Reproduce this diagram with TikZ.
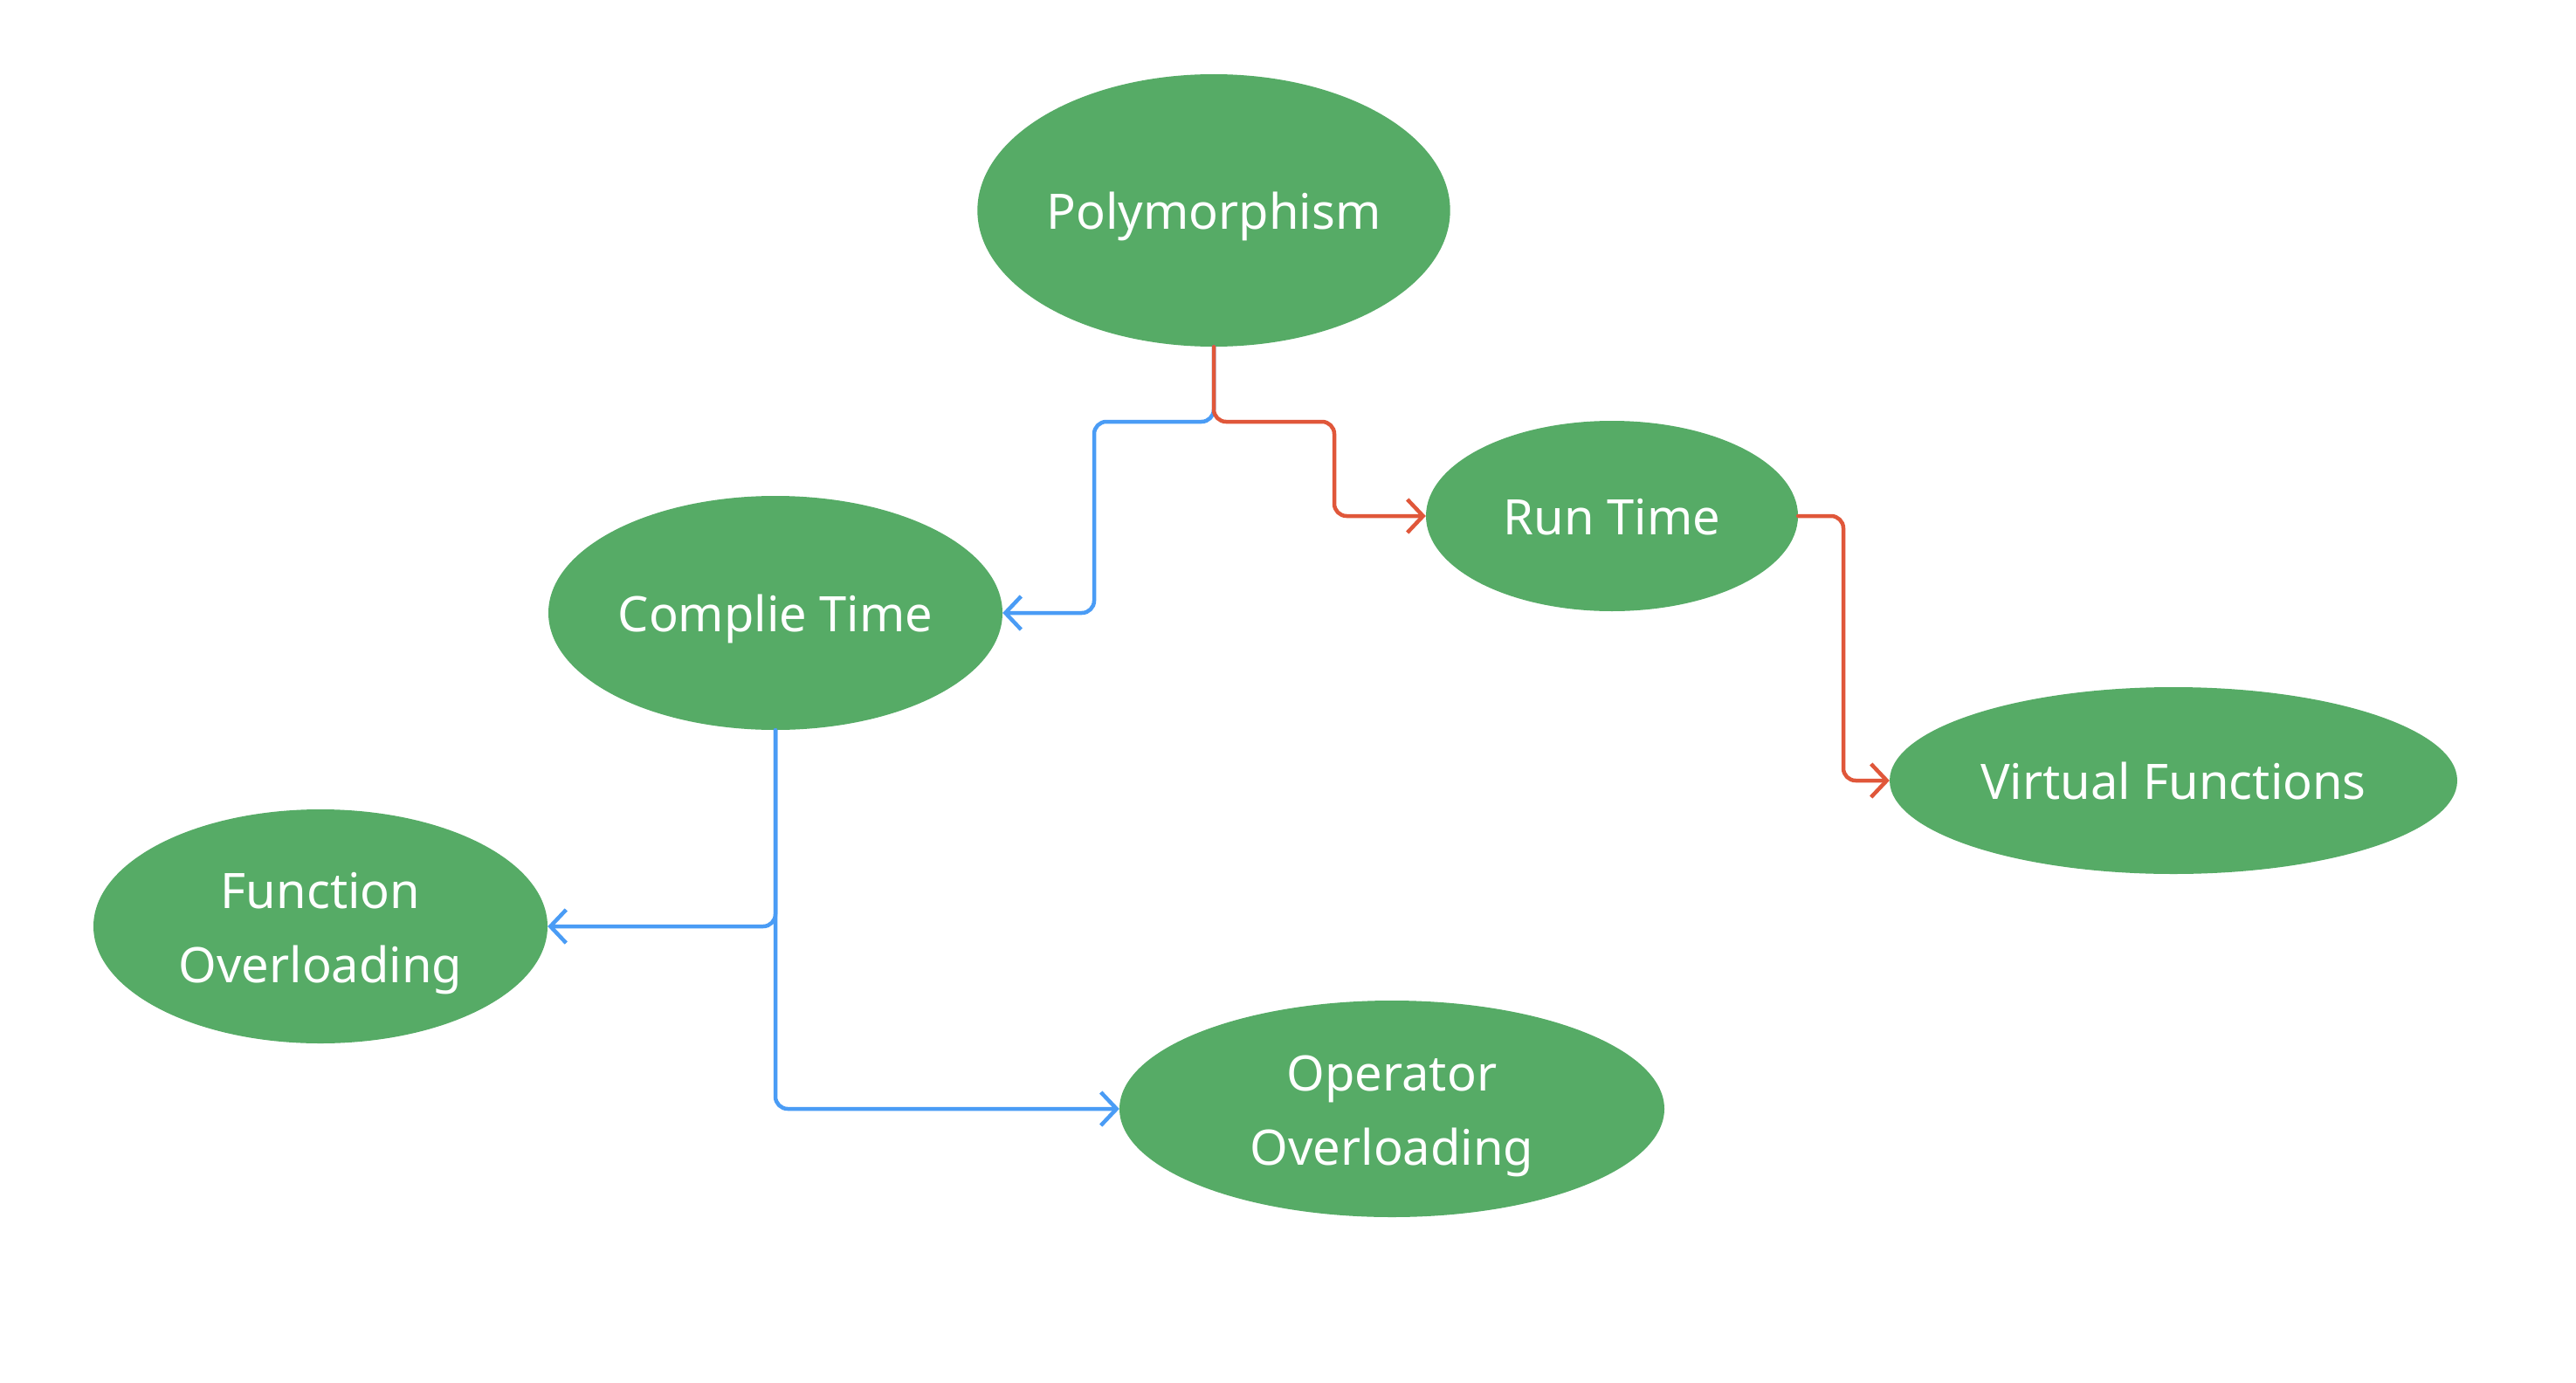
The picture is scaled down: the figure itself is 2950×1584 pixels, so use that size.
\documentclass[tikz,border=0pt]{standalone}
\usepackage{fontspec}
\setmainfont{Noto Sans}
\usetikzlibrary{shapes.geometric,arrows.meta}
\definecolor{nodegreen}{HTML}{56AB66}
\definecolor{linered}{HTML}{E0573A}
\definecolor{lineblue}{HTML}{4A9CF5}
\tikzset{
  bubble/.style={ellipse, fill=nodegreen, draw=none, inner sep=0pt, text=white,
    align=center, font=\fontsize{56}{85}\selectfont, text height=43pt, text depth=0pt},
  twoline/.style={text height=128pt, text depth=0pt},
  conn/.style={line width=4.5pt, rounded corners=14pt, line cap=round, line join=round,
    -{Straight Barb[length=18pt,width=38pt,line width=4.5pt]}},
  redconn/.style={conn, draw=linered},
  blueconn/.style={conn, draw=lineblue},
}
\begin{document}
\begin{tikzpicture}[x=1pt,y=-1pt]
\useasboundingbox[fill=white] (0,0) rectangle (2950,1584);
\node[bubble, minimum width=538pt, minimum height=312pt] (poly) at (1390,241) {Polymorphism};
\node[bubble, minimum width=426pt, minimum height=218pt] (run) at (1846,591) {Run Time};
\node[bubble, minimum width=520pt, minimum height=268pt] (ct) at (888,702) {Complie Time};
\node[bubble, minimum width=650pt, minimum height=214pt] (vf) at (2489,894) {Virtual Functions};
\node[bubble, twoline, minimum width=520pt, minimum height=268pt] (fo) at (367,1061) {Function\\Overloading};
\node[bubble, twoline, minimum width=624pt, minimum height=248pt] (oo) at (1594,1270) {Operator\\Overloading};
% Polymorphism -> Complie Time (blue)
\draw[blueconn] (poly.south) -- (1390,483) -- (1253,483) -- (1253,702) -- (ct.east);
% Polymorphism -> Run Time (red)
\draw[redconn] (poly.south) -- (1390,483) -- (1528,483) -- (1528,591) -- (run.west);
% Run Time -> Virtual Functions (red)
\draw[redconn] (run.east) -- (2111,591) -- (2111,894) -- (vf.west);
% Complie Time -> Operator Overloading (blue)
\draw[blueconn] (ct.south) |- (oo.west);
% Complie Time -> Function Overloading (blue)
\draw[blueconn] (ct.south) |- (fo.east);
\end{tikzpicture}
\end{document}
